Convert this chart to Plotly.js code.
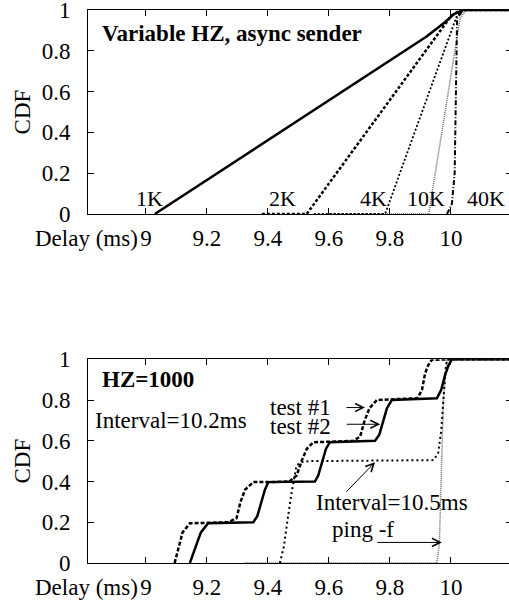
<!DOCTYPE html>
<html>
<head>
<meta charset="utf-8">
<script src="https://cdn.plot.ly/plotly-3.0.1.min.js"></script>
<style>
html,body{margin:0;padding:0;background:#fff;overflow:hidden;}
#chart{width:512px;height:602px;}
</style>
</head>
<body>
<div id="chart"></div>
<script>
// ---- Top panel: Variable HZ, async sender ----
const k1X = [9.029, 9.77, 9.92, 9.98, 10.01, 10.04, 10.2];
const k1Y = [0, 0.725, 0.87, 0.94, 0.98, 1, 1];
const k2X = [9.38, 9.527, 10.0, 10.03, 10.2];
const k2Y = [0, 0, 0.97, 1, 1];
const k4X = [9.55, 9.784, 10.02, 10.04, 10.2];
const k4Y = [0, 0, 0.975, 1, 1];
const k10X = [9.6, 9.927, 10.03, 10.05, 10.2];
const k10Y = [0, 0, 0.96, 1, 1];
const k40X = [9.987, 10.003, 10.012, 10.02, 10.04, 10.2];
const k40Y = [0, 0.05, 0.2, 0.96, 1, 1];
const topLabels = ["1K", "2K", "4K", "10K", "40K"];
const topLabelX = [9.013, 9.446, 9.745, 9.919, 10.116];

// ---- Bottom panel: HZ=1000 ----
const t1X = [9.094, 9.105, 9.12, 9.144, 9.20, 9.27, 9.297, 9.31, 9.325, 9.352, 9.42, 9.47, 9.494, 9.51, 9.527, 9.549, 9.62, 9.68, 9.702, 9.717, 9.733, 9.757, 9.83, 9.89, 9.905, 9.915, 9.925, 9.937, 10.0, 10.2];
const t1Y = [0, 0.06, 0.15, 0.195, 0.197, 0.2, 0.22, 0.3, 0.36, 0.397, 0.398, 0.40, 0.43, 0.5, 0.56, 0.593, 0.596, 0.60, 0.62, 0.7, 0.76, 0.8, 0.805, 0.809, 0.85, 0.93, 0.97, 0.997, 1.0, 1.0];
const t2X = [9.144, 9.16, 9.18, 9.204, 9.28, 9.352, 9.365, 9.378, 9.39, 9.401, 9.48, 9.554, 9.565, 9.578, 9.59, 9.603, 9.68, 9.751, 9.765, 9.778, 9.79, 9.806, 9.88, 9.954, 9.968, 9.98, 9.992, 10.003, 10.2];
const t2Y = [0, 0.07, 0.15, 0.195, 0.198, 0.2, 0.23, 0.3, 0.36, 0.397, 0.398, 0.40, 0.43, 0.5, 0.56, 0.593, 0.598, 0.60, 0.63, 0.7, 0.76, 0.8, 0.803, 0.809, 0.85, 0.92, 0.97, 1.0, 1.0];
const i105X = [9.439, 9.452, 9.465, 9.478, 9.494, 9.51, 9.532, 9.70, 9.943, 9.958, 9.968, 9.975, 9.982, 9.987, 10.2];
const i105Y = [0, 0.08, 0.22, 0.35, 0.48, 0.495, 0.50, 0.501, 0.505, 0.54, 0.65, 0.8, 0.95, 1.0, 1.0];
const pingX = [9.324, 9.954, 9.962, 9.968, 9.975, 9.987, 10.2];
const pingY = [0, 0, 0.1, 0.4, 0.8, 1.0, 1.0];

const tickVals = [9, 9.2, 9.4, 9.6, 9.8, 10];
const tickText = ["9", "9.2", "9.4", "9.6", "9.8", "10"];
const yTickVals = [0, 0.2, 0.4, 0.6, 0.8, 1];
const yTickText = ["0", "0.2", "0.4", "0.6", "0.8", "1"];

const FONT = "Liberation Serif";
const FS = 23;

function line(x, y, xa, ya, style) {
  return {x: x, y: y, xaxis: xa, yaxis: ya, mode: "lines", type: "scatter",
    hoverinfo: "skip", showlegend: false, line: style};
}

const traces = [
  line(k10X, k10Y, "x", "y", {color: "#666", width: 1.5, dash: "1px,1px"}),
  line(k4X, k4Y, "x", "y", {color: "#000", width: 1.8, dash: "2px,2px"}),
  line(k40X, k40Y, "x", "y", {color: "#000", width: 2, dash: "5px,2px,1px,2px"}),
  line(k2X, k2Y, "x", "y", {color: "#000", width: 2.5, dash: "3px,2px"}),
  line(k1X, k1Y, "x", "y", {color: "#000", width: 2.5}),
  line(pingX, pingY, "x2", "y2", {color: "#666", width: 1.5, dash: "1px,1px"}),
  line(i105X, i105Y, "x2", "y2", {color: "#000", width: 2, dash: "2px,3px"}),
  line(t1X, t1Y, "x2", "y2", {color: "#000", width: 2.5, dash: "4px,2px"}),
  line(t2X, t2Y, "x2", "y2", {color: "#000", width: 2.5})
];

const xCommon = {
  range: [8.81, 10.2], showline: true, linecolor: "#000", linewidth: 1, mirror: "ticks",
  ticks: "inside", ticklen: 6, tickcolor: "#000", tickwidth: 1, showgrid: false, zeroline: false,
  tickmode: "array", tickvals: tickVals, ticktext: tickText, ticklabeloverflow: "allow",
  tickfont: {family: FONT, size: FS, color: "#000"}, ticklabelstandoff: 3, fixedrange: true
};
const yCommon = {
  range: [0, 1], showline: true, linecolor: "#000", linewidth: 1, mirror: "ticks",
  ticks: "inside", ticklen: 6, tickcolor: "#000", tickwidth: 1, showgrid: false, zeroline: false,
  tickmode: "array", tickvals: yTickVals, ticktext: yTickText, ticklabeloverflow: "allow",
  tickfont: {family: FONT, size: FS, color: "#000"}, ticklabelstandoff: 12, fixedrange: true,
  title: {text: "CDF", font: {family: FONT, size: FS, color: "#000"}, standoff: 4}
};

const anns = [];
function txt(text, x, y, xref, yref, opts) {
  anns.push(Object.assign({text: text, x: x, y: y, xref: xref, yref: yref, showarrow: false,
    font: {family: FONT, size: FS, color: "#000"}, xanchor: "left", yanchor: "middle"}, opts || {}));
}
// top panel texts
txt("<b>Variable HZ, async sender</b>", 8.848, 0.886, "x", "y");
topLabels.forEach(function (t, i) {
  txt(t, topLabelX[i], 0.078, "x", "y", {xanchor: "center", font: {family: FONT, size: 22, color: "#000"}});
});
txt("Delay (ms)", 8.982, -0.12, "x", "y domain", {xanchor: "right"});
// bottom panel texts
txt("<b>HZ=1000</b>", 8.848, 0.899, "x2", "y2");
txt("Interval=10.2ms", 8.828, 0.699, "x2", "y2");
txt("test #1", 9.40, 0.763, "x2", "y2");
txt("test #2", 9.40, 0.668, "x2", "y2");
txt("Interval=10.5ms", 9.551, 0.297, "x2", "y2");
txt("ping -f", 9.603, 0.163, "x2", "y2");
txt("Delay (ms)", 8.982, -0.12, "x2", "y2 domain", {xanchor: "right"});

function arrow(x, y, ax, ay) {
  anns.push({text: "", x: x, y: y, xref: "x2", yref: "y2", showarrow: true, ax: ax, ay: ay,
    arrowhead: 5, arrowsize: 1.6, arrowwidth: 1, arrowcolor: "#000", standoff: 0, startstandoff: 0});
}
arrow(9.718, 0.763, -20, 0);
arrow(9.768, 0.681, -35, 0);
arrow(9.751, 0.495, -30, 31);
arrow(9.970, 0.101, -66, 0);

const layout = {
  width: 512, height: 602,
  margin: {l: 88, r: 0, t: 10, b: 39},
  paper_bgcolor: "#fff", plot_bgcolor: "#fff",
  font: {family: FONT, size: FS, color: "#000"},
  showlegend: false,
  xaxis: Object.assign({}, xCommon, {anchor: "y", domain: [0, 1]}),
  yaxis: Object.assign({}, yCommon, {anchor: "x", domain: [0.6311, 1]}),
  xaxis2: Object.assign({}, xCommon, {anchor: "y2", domain: [0, 1]}),
  yaxis2: Object.assign({}, yCommon, {anchor: "x2", domain: [0, 0.3684]}),
  annotations: anns
};

Plotly.newPlot("chart", traces, layout, {displayModeBar: false, staticPlot: true});
</script>
</body>
</html>
